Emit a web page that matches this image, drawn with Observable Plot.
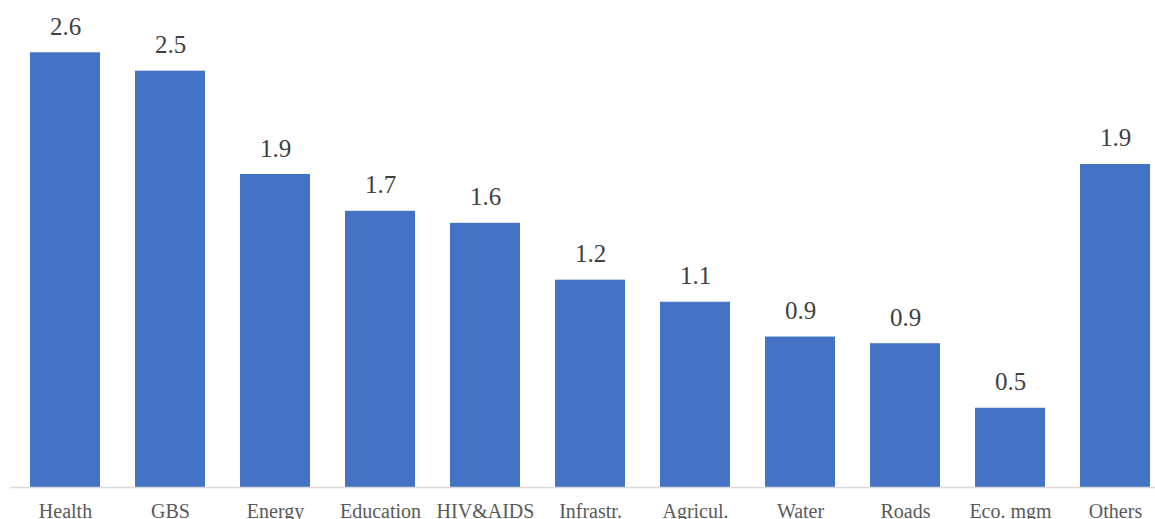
<!DOCTYPE html>
<html>
<head>
<meta charset="utf-8">
<script src="https://cdn.jsdelivr.net/npm/d3@7"></script>
<script src="https://cdn.jsdelivr.net/npm/@observablehq/plot@0.6"></script>
<style>
  html, body { margin: 0; padding: 0; background: #fff; }
  #chart svg { display: block; }
  #chart svg, #chart svg text { font-family: "Liberation Serif", "DejaVu Serif", serif !important; }
</style>
</head>
<body>
<div id="chart"></div>
<script>
// Sectors and their amounts
const sectors = ["Health", "GBS", "Energy", "Education", "HIV&AIDS", "Infrastr.", "Agricul.", "Water", "Roads", "Eco. mgm", "Others"];
const amounts = [2.60, 2.49, 1.872, 1.652, 1.58, 1.24, 1.108, 0.90, 0.86, 0.474, 1.932];

const data = sectors.map((sector, i) => ({sector, amount: amounts[i]}));
const fmt = d3.format(".1f");
const font = "Liberation Serif, DejaVu Serif, serif";

const W = 1155, H = 519;

const chart = Plot.plot({
  width: W,
  height: H,
  marginTop: 0,
  marginBottom: 32,
  marginLeft: 10,
  marginRight: 0,
  style: {fontFamily: font, background: "#fff"},
  x: {domain: sectors, range: [10.3, 1169.7], paddingInner: 0.336, paddingOuter: 0.168, label: null},
  y: {domain: [0, 487 / 167.2], axis: null},
  marks: [
    Plot.barY(data, {x: "sector", y: "amount", fill: "#4472C4"}),
    Plot.ruleY([0], {stroke: "#d9d9d9", strokeWidth: 1.5}),
    Plot.text(data, {
      x: "sector", y: "amount", text: d => fmt(d.amount),
      lineAnchor: "bottom", dy: -18, fontSize: 25, fill: "#404040", fontFamily: font
    }),
    Plot.axisX({tickSize: 0, tickPadding: 16, fontSize: 20, color: "#595959", label: null, fontFamily: font})
  ]
});

document.getElementById("chart").appendChild(chart);
</script>
</body>
</html>
